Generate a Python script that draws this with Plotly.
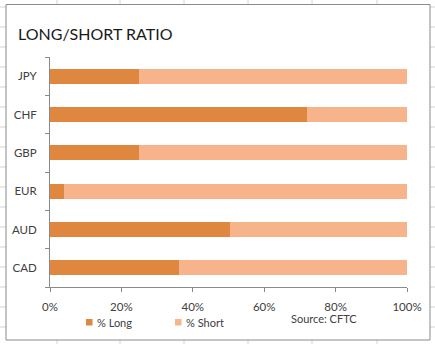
import plotly.graph_objects as go

# Currency positioning (bottom-to-top order on the category axis)
currencies = ["CAD", "AUD", "EUR", "GBP", "CHF", "JPY"]
pct_long = [0.36, 0.504, 0.04, 0.248, 0.72, 0.248]
pct_short = [1 - v for v in pct_long]

x_ticks = [0, 0.2, 0.4, 0.6, 0.8, 1.0]
series_names = ["% Long", "% Short"]

W, H = 435, 344
L, R, T, B = 50, 28, 57, 57
PW, PH = W - L - R, H - T - B


def px_x(p):
    return (p - L) / PW


def px_y(p):
    return (H - B - p) / PH


LONG_COLOR = "#E0873F"
SHORT_COLOR = "#F7B48B"
TEXT = "#404040"
FONT = "Lato"

fig = go.Figure()
fig.add_trace(go.Bar(y=currencies, x=pct_long, orientation="h", name=series_names[0],
                     marker=dict(color=LONG_COLOR, line=dict(width=0))))
fig.add_trace(go.Bar(y=currencies, x=pct_short, orientation="h", name=series_names[1],
                     marker=dict(color=SHORT_COLOR, line=dict(width=0))))

shapes = []
# worksheet cell grid behind the chart box
for gx in [57, 120, 184, 248, 312, 377]:
    shapes.append(dict(type="line", xref="paper", yref="paper", layer="below",
                       x0=px_x(gx), x1=px_x(gx), y0=px_y(0), y1=px_y(H),
                       line=dict(color="#D4D4D4", width=1)))
for gy in range(7, H, 20):
    shapes.append(dict(type="line", xref="paper", yref="paper", layer="below",
                       x0=px_x(0), x1=px_x(W), y0=px_y(gy), y1=px_y(gy),
                       line=dict(color="#D4D4D4", width=1)))
# chart box
shapes.append(dict(type="rect", xref="paper", yref="paper", layer="below",
                   x0=px_x(6), x1=px_x(430), y0=px_y(340), y1=px_y(4.5),
                   fillcolor="white", line=dict(color="#8A8A8A", width=1)))

annotations = [
    dict(text="LONG/SHORT RATIO", xref="paper", yref="paper", x=px_x(16), y=px_y(34),
         xanchor="left", yanchor="middle", showarrow=False,
         font=dict(family=FONT, size=16, color="#1a1a1a")),
    dict(text="Source: CFTC", xref="paper", yref="paper", x=px_x(324), y=px_y(318),
         xanchor="center", yanchor="middle", showarrow=False,
         font=dict(family=FONT, size=11, color=TEXT)),
]

# compact legend: swatch + label under the axis
legend_items = [(series_names[0], LONG_COLOR, 86), (series_names[1], SHORT_COLOR, 175)]
for name, color, sx in legend_items:
    shapes.append(dict(type="rect", xref="paper", yref="paper",
                       x0=px_x(sx), x1=px_x(sx + 6.5), y0=px_y(325.5), y1=px_y(319),
                       fillcolor=color, line=dict(width=0)))
    annotations.append(dict(text=name, xref="paper", yref="paper", x=px_x(sx + 9),
                            y=px_y(322.5), xanchor="left", yanchor="middle",
                            showarrow=False, font=dict(family=FONT, size=11, color=TEXT)))

fig.update_layout(
    width=W, height=H,
    margin=dict(l=L, r=R, t=T, b=B, autoexpand=False),
    barmode="stack",
    bargap=0.61,
    paper_bgcolor="white",
    plot_bgcolor="rgba(0,0,0,0)",
    font=dict(family=FONT, size=11, color=TEXT),
    showlegend=False,
    shapes=shapes,
    annotations=annotations,
)
fig.update_xaxes(range=[0, 1], tickvals=x_ticks, tickformat=".0%", showgrid=False,
                 zeroline=False, showline=True, linecolor="#8A8A8A", linewidth=1,
                 ticks="outside", ticklen=4, tickcolor="#8A8A8A",
                 ticklabelstandoff=5, fixedrange=True, tickfont=dict(size=11.5))
fig.update_yaxes(type="category", categoryorder="array", categoryarray=currencies,
                 showgrid=False, showline=True, linecolor="#8A8A8A", linewidth=1,
                 ticks="outside", ticklen=4, tickcolor="#8A8A8A", tickson="boundaries",
                 ticklabelstandoff=10, fixedrange=True, tickfont=dict(size=11.5))

fig.write_html("out.html")
